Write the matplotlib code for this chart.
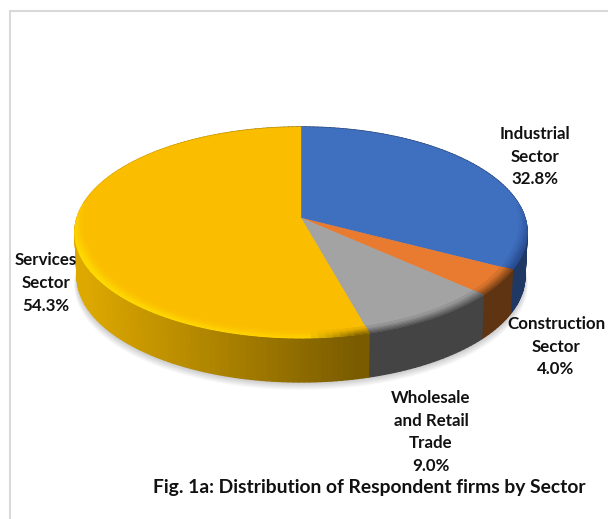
import numpy as np
import matplotlib.pyplot as plt
from matplotlib.collections import PolyCollection
from matplotlib.colors import to_rgb

sectors = ["Industrial\nSector", "Construction\nSector", "Wholesale\nand Retail\nTrade", "Services\nSector"]
shares = [32.8, 4.0, 9.0, 54.3]
share_labels = ["32.8%", "4.0%", "9.0%", "54.3%"]
title = "Fig. 1a: Distribution of Respondent firms by Sector"

face_cols = ["#3F6FBF", "#E97B30", "#A3A3A3", "#FBBD00"]
label_x = [535, 556, 431, 46]
label_y = [156.5, 346.5, 432, 283]

# the pie is a tilted disc, so use a simple perspective projection
cx, cy = 301, 218
A, B, k = 224, 103.5, 0.137
depth = 44


def project(theta, r=1.0):
    u = r * np.sin(theta)
    v = r * np.cos(theta)
    w = 1 + k * v
    return cx + A * u / w, cy - B * v / w


def mix(c1, c2, t):
    c1, c2 = np.array(to_rgb(c1)), np.array(to_rgb(c2))
    return tuple(c1 + (c2 - c1) * np.clip(t, 0, 1))


def side_color(i, x):
    if i == 3:
        return mix("#DDA800", "#7A5C00", (x - 85) / 270)
    return ["#1F3864", "#5F3413", "#444444"][i]


def bevel_color(i, x):
    if i == 3:
        if x > 310:
            return mix("#FFD000", "#8A6A00", (x - 310) / 50)
        return mix("#FFDC00", "#FFD000", (x - 100) / 200)
    return {0: "#264A8C", 1: "#7A4216", 2: "#555555"}[i]


fig = plt.figure(figsize=(6.08, 5.19), dpi=100)
ax = fig.add_axes([0, 0, 1, 1])
ax.set_xlim(0, 608)
ax.set_ylim(519, 0)
ax.axis("off")

# frame of the pasted chart, only top and left are in the crop
ax.plot([9.5, 9.5, 608], [519, 10.5, 10.5], color="#D9D9D9", lw=1.5, solid_joinstyle="miter")

fractions = np.array(shares) / np.sum(shares)
edges = np.concatenate([[0], np.cumsum(fractions)]) * 2 * np.pi

# soft shadow under the pie
t = np.linspace(0, 2 * np.pi, 240)
sx, sy = project(t)
for g in np.linspace(9, 1, 9):
    ax.fill(cx + (sx - cx) * (0.99 + g * 0.0015), sy + depth + g * 0.9, color="black", alpha=0.022, lw=0)

# side wall, strip by strip
strips, strip_cols = [], []
for i in range(len(shares)):
    th = np.linspace(edges[i], edges[i + 1], max(int(fractions[i] * 300), 4))
    x, y = project(th)
    bx = cx + (x - cx) * 0.99
    by = y + depth
    for j in range(len(th) - 1):
        strips.append([(x[j], y[j]), (x[j + 1], y[j + 1]), (bx[j + 1], by[j + 1]), (bx[j], by[j])])
        strip_cols.append(side_color(i, (x[j] + x[j + 1]) / 2))
ax.add_collection(PolyCollection(strips, facecolors=strip_cols, edgecolors=strip_cols, linewidths=1.0))

# top face plus a blurred bevel on the front rim, it fades out towards the sides
bands = np.linspace(1.0, 0.95, 7)
for i in range(len(shares)):
    th = np.linspace(edges[i], edges[i + 1], 120)
    x, y = project(th)
    ax.fill(np.r_[cx, x], np.r_[cy, y], color=face_cols[i], lw=0.3)

    for b in range(len(bands) - 1):
        a = 1 - b / (len(bands) - 1)
        segs, cols = [], []
        for j in range(len(th) - 1):
            fade = np.clip((0.12 - np.cos(th[j])) / 0.45, 0, 1)
            if fade == 0:
                continue
            # bevel gets thinner where it fades
            r0 = 1 - (1 - bands[b + 1]) * (0.4 + 0.6 * fade)
            r1 = 1 - (1 - bands[b]) * (0.4 + 0.6 * fade)
            xa, ya = project(th[j:j + 2], r0)
            xb, yb = project(th[j:j + 2], r1)
            segs.append([(xa[0], ya[0]), (xa[1], ya[1]), (xb[1], yb[1]), (xb[0], yb[0])])
            cols.append(mix(face_cols[i], bevel_color(i, xa[0]), a * (0.3 + 0.7 * fade)))
        if segs:
            ax.add_collection(PolyCollection(segs, facecolors=cols, edgecolors=cols, linewidths=0.8))

for name, pct, lx, ly in zip(sectors, share_labels, label_x, label_y):
    ax.text(lx, ly, name + "\n" + pct, ha="center", va="center", family="Lato", weight="bold",
            fontsize=12.2, color="#111111", linespacing=1.53)

ax.text(369, 488, title, ha="center", va="center", family="Lato", weight="bold", fontsize=13.85, color="#111111")

fig.savefig("out.png", dpi=100)
